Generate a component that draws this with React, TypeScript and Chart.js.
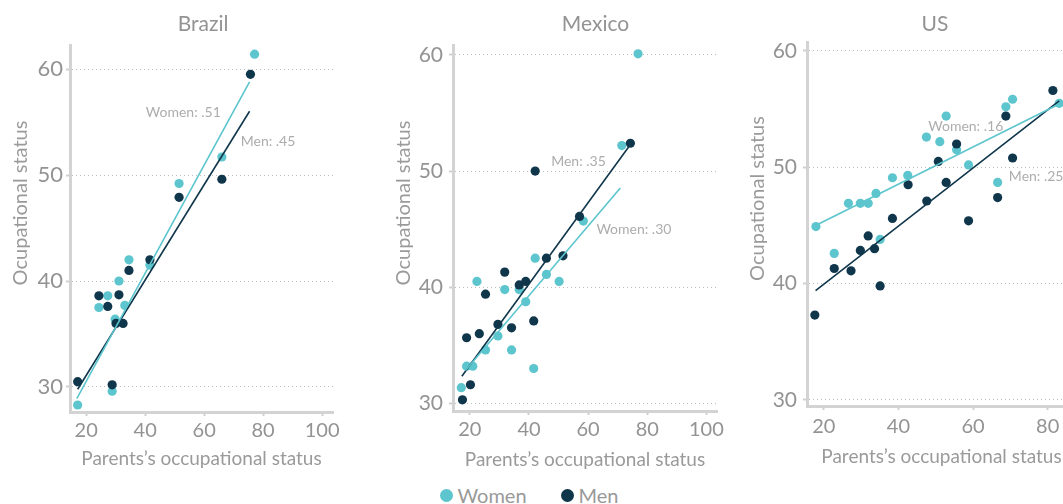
import React, { useEffect, useRef } from "react";
import { Chart, registerables } from "chart.js";

Chart.register(...registerables);

const FONT = "Lato, 'Open Sans', sans-serif";

// ---- data -------------------------------------------------------------
const countries = ["Brazil", "Mexico", "US"];
const seriesNames = ["Women", "Men"];
const womenColor = "#5cc5cd";
const menColor = "#10364b";

const xAxisTitle = "Parents\u2019s occupational status";
const yAxisTitle = "Ocupational status";

// [parents' status, own status]
const brazilWomen = [
  [77.1, 61.4], [66.0, 51.7], [51.5, 49.2], [41.6, 41.5], [34.5, 42.0], [31.1, 40.0],
  [27.3, 38.6], [24.3, 37.5], [33.1, 37.7], [29.8, 36.4], [28.8, 29.6], [17.1, 28.3],
];
const brazilMen = [
  [75.7, 59.5], [66.0, 49.6], [51.5, 47.9], [41.6, 42.0], [34.5, 41.0], [31.1, 38.7],
  [24.3, 38.6], [27.3, 37.6], [30.1, 36.0], [32.5, 36.0], [28.8, 30.2], [17.1, 30.5],
];
const mexicoWomen = [
  [76.9, 60.1], [71.4, 52.2], [58.4, 45.7], [42.1, 42.5], [45.9, 41.1], [50.2, 40.5],
  [22.4, 40.5], [31.8, 39.8], [36.7, 39.8], [38.9, 38.75], [29.5, 35.8], [25.3, 34.6],
  [34.1, 34.6], [18.9, 33.2], [21.0, 33.2], [41.6, 33.0], [17.1, 31.35],
];
const mexicoMen = [
  [74.3, 52.4], [57.1, 46.1], [42.1, 50.0], [45.9, 42.5], [51.5, 42.7], [31.8, 41.3],
  [38.9, 40.5], [36.7, 40.2], [25.3, 39.4], [29.5, 36.8], [34.1, 36.5], [41.6, 37.1],
  [23.2, 36.0], [18.9, 35.65], [20.2, 31.6], [17.5, 30.3],
];
const usWomen = [
  [83.1, 55.5], [70.6, 55.85], [68.8, 55.2], [52.8, 54.4], [47.5, 52.6], [51.1, 52.2],
  [55.6, 51.5], [58.8, 50.2], [66.6, 48.7], [38.4, 49.1], [42.5, 49.3], [34.0, 47.75],
  [26.6, 46.9], [29.8, 46.9], [31.9, 46.9], [17.9, 44.9], [22.8, 42.6], [35.1, 43.8],
];
const usMen = [
  [81.4, 56.6], [68.8, 54.4], [55.6, 52.0], [50.7, 50.5], [70.6, 50.8], [42.6, 48.5],
  [52.8, 48.7], [47.6, 47.1], [66.6, 47.4], [38.4, 45.6], [58.8, 45.4], [31.9, 44.1],
  [29.8, 42.85], [33.6, 43.0], [22.8, 41.3], [27.3, 41.1], [35.1, 39.8], [17.6, 37.3],
];

const womenSeries = [brazilWomen, mexicoWomen, usWomen];
const menSeries = [brazilMen, mexicoMen, usMen];

// fitted lines: slope, intercept and the x span they cover
const womenSlopes = [0.51, 0.3, 0.16];
const menSlopes = [0.45, 0.35, 0.25];
const womenIntercepts = [20.34, 27.28, 42.15];
const menIntercepts = [22.09, 26.28, 34.94];
const womenFitSpan = [[16.8, 75.4], [18.5, 70.9], [17.8, 83.1]];
const menFitSpan = [[17.1, 75.4], [17.3, 73.7], [17.8, 83.1]];

// axis domains
const xDomains = [[14.5, 103.7], [14.3, 103.6], [15.5, 87.6]];
const yDomains = [[27.64, 62.27], [29.34, 60.86], [29.48, 60.77]];

// ---- layout -----------------------------------------------------------
const CANVAS_H = 480;
const Y_AXIS_W = 70;
const RIGHT_PAD = 20;
const X_TITLE_SIZE = 19;

const frames = [
  { plotLeft: 70, plotRight: 333, plotTop: 45, plotBottom: 412, titleX: 203, yTitleY: 203, xTitleY: 459, yTickSize: 22, yTickPad: 3, xTickPad: 3 },
  { plotLeft: 453, plotRight: 717, plotTop: 45, plotBottom: 411, titleX: 595.5, yTitleY: 203, xTitleY: 460, yTickSize: 21, yTickPad: 6, xTickPad: 3 },
  { plotLeft: 807, plotRight: 1076, plotTop: 42, plotBottom: 406, titleX: 935, yTitleY: 198.5, xTitleY: 457, yTickSize: 21, yTickPad: 6, xTickPad: 5 },
];

// where the slope annotations start (data coordinates)
const womenLabelAt = [[40.2, 55.9], [62.8, 44.98], [48.0, 53.47]];
const menLabelAt = [[72.4, 53.2], [47.5, 50.87], [69.6, 49.24]];

const fmtSlope = (s: number) => s.toFixed(2).replace(/^0/, "");

const toPoints = (arr: number[][]) => arr.map(([x, y]) => ({ x, y }));
const fitLine = (slope: number, intercept: number, span: number[]) =>
  span.map((x) => ({ x, y: intercept + slope * x }));

function Panel({ i }: { i: number }) {
  const ref = useRef<HTMLCanvasElement>(null);
  const f = frames[i];
  const left = f.plotLeft - Y_AXIS_W;
  const width = f.plotRight - left + RIGHT_PAD;

  useEffect(() => {
    const xAxisH = f.xTitleY + (X_TITLE_SIZE * 1.2) / 2 - f.plotBottom;

    const annotations = {
      id: "panelText",
      afterDraw(chart: any) {
        const { ctx } = chart;
        const xs = chart.scales.x;
        const ys = chart.scales.y;
        ctx.save();
        // slope annotations
        ctx.font = `14px ${FONT}`;
        ctx.fillStyle = "#adadad";
        ctx.textAlign = "left";
        ctx.textBaseline = "middle";
        const wa = womenLabelAt[i];
        const ma = menLabelAt[i];
        ctx.fillText(`${seriesNames[0]}: ${fmtSlope(womenSlopes[i])}`, xs.getPixelForValue(wa[0]), ys.getPixelForValue(wa[1]));
        ctx.fillText(`${seriesNames[1]}: ${fmtSlope(menSlopes[i])}`, xs.getPixelForValue(ma[0]), ys.getPixelForValue(ma[1]));
        // panel title
        ctx.font = `21px ${FONT}`;
        ctx.fillStyle = "#939393";
        ctx.textAlign = "center";
        ctx.textBaseline = "alphabetic";
        ctx.fillText(countries[i], f.titleX - left, 30.5);
        // vertical axis title
        ctx.translate(Y_AXIS_W - 49.5, f.yTitleY);
        ctx.rotate(-Math.PI / 2);
        ctx.font = `20px ${FONT}`;
        ctx.fillStyle = "#9a9a9a";
        ctx.textBaseline = "middle";
        ctx.fillText(yAxisTitle, 0, 0);
        ctx.restore();
      },
    };

    const chart = new Chart(ref.current as HTMLCanvasElement, {
      type: "scatter",
      data: {
        datasets: [
          {
            label: `${seriesNames[0]} fit`,
            data: fitLine(womenSlopes[i], womenIntercepts[i], womenFitSpan[i]),
            showLine: true,
            borderColor: womenColor,
            borderWidth: 1.6,
            pointRadius: 0,
            order: 0,
          },
          {
            label: `${seriesNames[1]} fit`,
            data: fitLine(menSlopes[i], menIntercepts[i], menFitSpan[i]),
            showLine: true,
            borderColor: menColor,
            borderWidth: 1.6,
            pointRadius: 0,
            order: 0,
          },
          {
            label: seriesNames[1],
            data: toPoints(menSeries[i]),
            backgroundColor: menColor,
            borderWidth: 0,
            pointRadius: 4.6,
            order: 1,
          },
          {
            label: seriesNames[0],
            data: toPoints(womenSeries[i]),
            backgroundColor: womenColor,
            borderWidth: 0,
            pointRadius: 4.6,
            order: 2,
          },
        ],
      } as any,
      options: {
        responsive: false,
        animation: false,
        events: [],
        layout: {
          padding: {
            top: f.plotTop,
            left: 0,
            right: RIGHT_PAD,
            bottom: CANVAS_H - f.plotBottom - xAxisH,
          },
        },
        plugins: {
          legend: { display: false },
          tooltip: { enabled: false },
          title: { display: false },
        },
        scales: {
          x: {
            type: "linear",
            min: xDomains[i][0],
            max: xDomains[i][1],
            afterFit: (s: any) => {
              s.height = xAxisH;
            },
            ticks: {
              stepSize: 20,
              includeBounds: false,
              font: { family: FONT, size: 20 },
              color: "#939393",
              padding: f.xTickPad,
            },
            grid: {
              drawOnChartArea: false,
              drawTicks: true,
              tickLength: 4,
              tickColor: "#d0d0d0",
              tickWidth: 2,
            },
            border: { color: "#d3d3d3", width: 3 },
            title: {
              display: true,
              text: xAxisTitle,
              font: { family: FONT, size: X_TITLE_SIZE },
              color: "#9a9a9a",
              padding: { top: 0, bottom: 0 },
            },
          },
          y: {
            type: "linear",
            min: yDomains[i][0],
            max: yDomains[i][1],
            afterFit: (s: any) => {
              s.width = Y_AXIS_W;
            },
            ticks: {
              stepSize: 10,
              includeBounds: false,
              font: { family: FONT, size: f.yTickSize },
              color: "#939393",
              padding: f.yTickPad,
            },
            grid: {
              color: "#bdbdbd",
              lineWidth: 1,
              drawTicks: true,
              tickLength: 4,
              tickColor: "#d0d0d0",
              tickWidth: 2,
              tickBorderDash: [],
            },
            border: { color: "#d3d3d3", width: 3, dash: [1, 3] },
          },
        },
      } as any,
      plugins: [annotations],
    });
    return () => chart.destroy();
  }, []);

  return (
    <canvas
      ref={ref}
      width={width}
      height={CANVAS_H}
      style={{ position: "absolute", left, top: 0, width, height: CANVAS_H }}
    />
  );
}

function LegendItem({ label, color, cx }: { label: string; color: string; cx: number }) {
  return (
    <div style={{ position: "absolute", left: cx - 6.5, top: 482, height: 26, display: "flex", alignItems: "center" }}>
      <span style={{ width: 13, height: 13, borderRadius: "50%", background: color, display: "inline-block" }} />
      <span style={{ marginLeft: 5, font: `20px ${FONT}`, color: "#999999", lineHeight: "26px" }}>{label}</span>
    </div>
  );
}

export default function App() {
  return (
    <div
      style={{
        position: "absolute",
        left: 0,
        top: 0,
        width: 1063,
        height: 504,
        overflow: "hidden",
        background: "#ffffff",
      }}
    >
      {countries.map((_, i) => (
        <Panel key={i} i={i} />
      ))}
      <LegendItem label={seriesNames[0]} color={womenColor} cx={446} />
      <LegendItem label={seriesNames[1]} color={menColor} cx={567} />
    </div>
  );
}
